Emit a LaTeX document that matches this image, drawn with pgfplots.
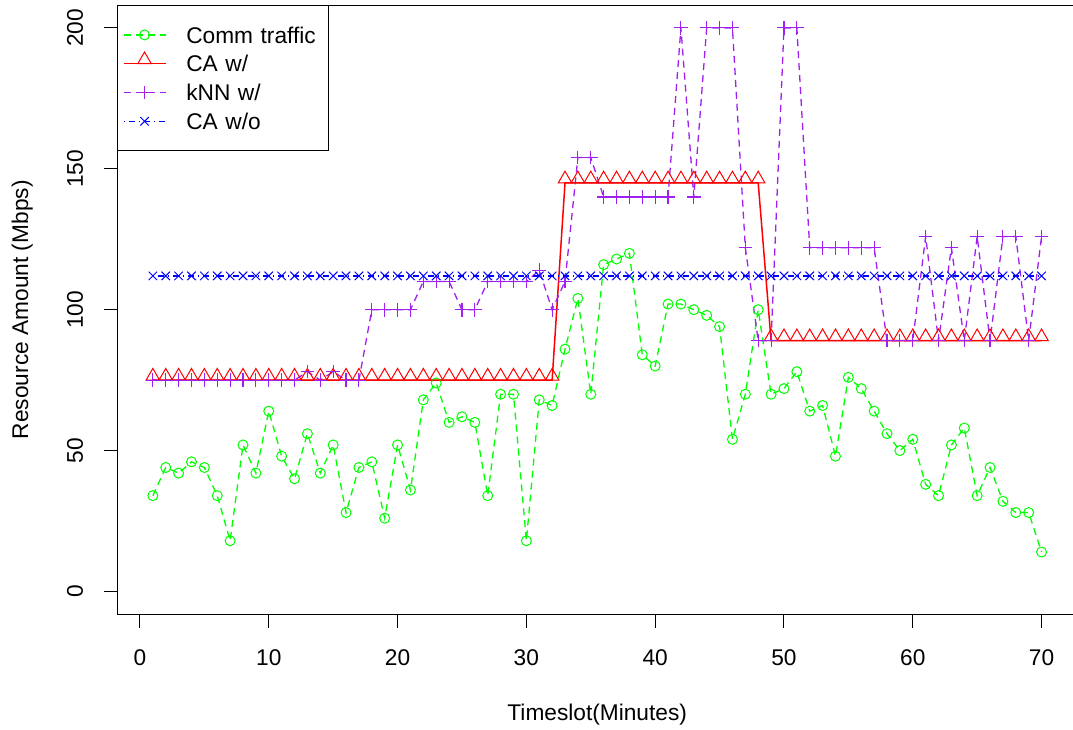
\documentclass[border=0pt]{standalone}
\usepackage{pgfplots}
\pgfplotsset{compat=1.18}
\usepackage{fontspec}
\setmainfont{Liberation Sans}

\definecolor{rgreen}{RGB}{0,255,0}
\definecolor{rred}{RGB}{255,0,0}
\definecolor{rpurple}{RGB}{160,32,240}
\definecolor{rblue}{RGB}{0,0,255}

\newcommand{\chartfont}{\fontsize{22.7}{27}\selectfont}

% Communication traffic per timeslot
\pgfplotstableread{
x y
1 34
2 44
3 42
4 46
5 44
6 34
7 18
8 52
9 42
10 64
11 48
12 40
13 56
14 42
15 52
16 28
17 44
18 46
19 26
20 52
21 36
22 68
23 74
24 60
25 62
26 60
27 34
28 70
29 70
30 18
31 68
32 66
33 86
34 104
35 70
36 116
37 118
38 120
39 84
40 80
41 102
42 102
43 100
44 98
45 94
46 54
47 70
48 100
49 70
50 72
51 78
52 64
53 66
54 48
55 76
56 72
57 64
58 56
59 50
60 54
61 38
62 34
63 52
64 58
65 34
66 44
67 32
68 28
69 28
70 14
}\traffic

% Allocation with prediction (CA)
\pgfplotstableread{
x y
1 75
2 75
3 75
4 75
5 75
6 75
7 75
8 75
9 75
10 75
11 75
12 75
13 75
14 75
15 75
16 75
17 75
18 75
19 75
20 75
21 75
22 75
23 75
24 75
25 75
26 75
27 75
28 75
29 75
30 75
31 75
32 75
33 145
34 145
35 145
36 145
37 145
38 145
39 145
40 145
41 145
42 145
43 145
44 145
45 145
46 145
47 145
48 145
49 89
50 89
51 89
52 89
53 89
54 89
55 89
56 89
57 89
58 89
59 89
60 89
61 89
62 89
63 89
64 89
65 89
66 89
67 89
68 89
69 89
70 89
}\cawith

% Allocation with kNN prediction
\pgfplotstableread{
x y
1 75
2 75
3 75
4 75
5 75
6 75
7 75
8 75
9 75
10 75
11 75
12 75
13 78
14 75
15 78
16 75
17 75
18 100
19 100
20 100
21 100
22 110
23 110
24 110
25 100
26 100
27 110
28 110
29 110
30 110
31 114
32 100
33 110
34 154
35 154
36 140
37 140
38 140
39 140
40 140
41 140
42 200
43 140
44 200
45 200
46 200
47 122
48 89
49 89
50 200
51 200
52 122
53 122
54 122
55 122
56 122
57 122
58 89
59 89
60 89
61 126
62 89
63 122
64 89
65 126
66 89
67 126
68 126
69 89
70 126
}\knn

% Static allocation (CA without prediction)
\pgfplotstableread{
x y
1 112
2 112
3 112
4 112
5 112
6 112
7 112
8 112
9 112
10 112
11 112
12 112
13 112
14 112
15 112
16 112
17 112
18 112
19 112
20 112
21 112
22 112
23 112
24 112
25 112
26 112
27 112
28 112
29 112
30 112
31 112
32 112
33 112
34 112
35 112
36 112
37 112
38 112
39 112
40 112
41 112
42 112
43 112
44 112
45 112
46 112
47 112
48 112
49 112
50 112
51 112
52 112
53 112
54 112
55 112
56 112
57 112
58 112
59 112
60 112
61 112
62 112
63 112
64 112
65 112
66 112
67 112
68 112
69 112
70 112
}\cawithout

\begin{document}
\begin{tikzpicture}[x=1pt,y=1pt]
\useasboundingbox (0,0) rectangle (1073,729);
\begin{axis}[
  at={(117.3pt,115pt)}, anchor=south west,
  scale only axis, width=959.8pt, height=608.6pt,
  xmin=-1.76, xmax=72.76, ymin=-8, ymax=208,
  xtick={0,10,...,70}, ytick={0,50,...,200},
  tick pos=left, tick align=outside, major tick length=13.5pt,
  every tick/.style={black, line width=1pt},
  axis line style={black, line width=1pt},
  /pgf/number format/assume math mode=true,
  tick label style={font=\chartfont, inner sep=0pt},
  xticklabel style={anchor=north, yshift=-21.5pt},
  yticklabel style={xshift=-20.5pt, rotate=90, anchor=south},
  xlabel={Timeslot(Minutes)}, ylabel={Resource Amount (Mbps)},
  every axis x label/.style={at={(rel axis cs:0.5,0)}, yshift=-101pt, anchor=center, font=\chartfont},
  every axis y label/.style={at={(rel axis cs:0,0.5)}, xshift=-95pt, rotate=90, anchor=center, font=\chartfont},
  legend style={at={(rel axis cs:0,1)}, anchor=north west, draw=black, line width=1pt,
    inner xsep=5pt, inner ysep=16.5pt, row sep=3.8pt, column sep=17pt, font=\chartfont,
    nodes={inner xsep=3pt, inner ysep=0pt, text width=134pt, text height=20.65pt, text depth=4.35pt}},
  legend cell align=left,
  legend image code/.code={\draw[mark repeat=2,mark phase=2,#1] plot coordinates {(0pt,0pt) (21pt,0pt) (42pt,0pt)};},
]
\addplot[rgreen, line width=1.3pt, dash pattern=on 7pt off 5pt,
  mark=o, mark size=5pt, mark options={solid, line width=1pt}] table {\traffic};
\addlegendentry{Comm traffic}
\addplot[rred, line width=1.5pt,
  mark=triangle, mark size=7.8pt, mark options={solid, line width=1pt, yshift=3.9pt}] table {\cawith};
\addlegendentry{CA w/}
\addplot[rpurple, line width=1.3pt, dash pattern=on 7pt off 5pt,
  mark=+, mark size=6.8pt, mark options={solid, line width=1.1pt}] table {\knn};
\addlegendentry{kNN w/}
\addplot[rblue, line width=1.3pt, dash pattern=on 1.5pt off 4pt on 5.5pt off 4pt,
  mark=x, mark size=6pt, mark options={solid, line width=1pt}] table {\cawithout};
\addlegendentry{CA w/o}
\end{axis}
\end{tikzpicture}
\end{document}
